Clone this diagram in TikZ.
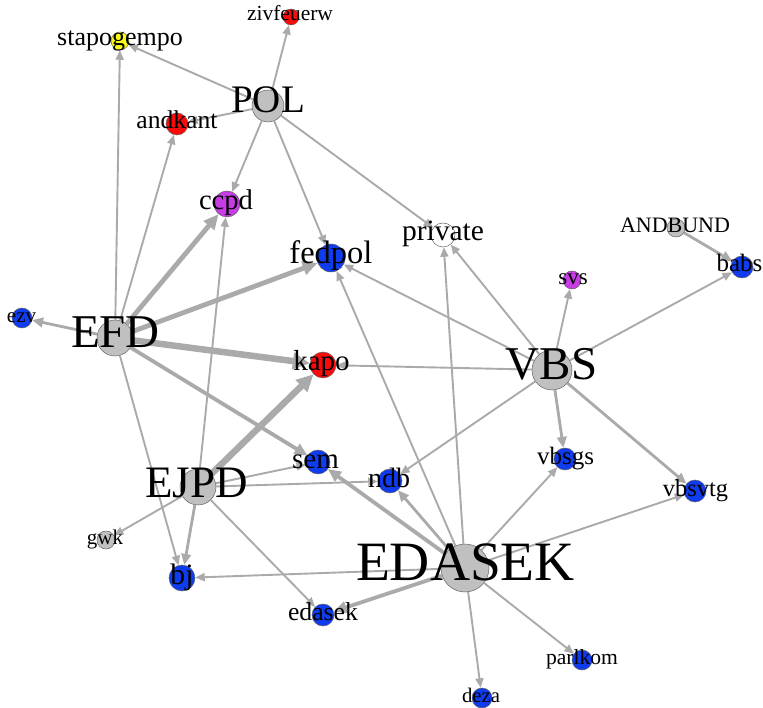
\documentclass[tikz,border=0pt]{standalone}
\usepackage{fontspec}
\setmainfont{Liberation Serif}
\usetikzlibrary{arrows.meta}
\definecolor{edgecol}{RGB}{170,170,170}
\definecolor{vgray}{RGB}{192,192,192}
\definecolor{vblue}{RGB}{16,60,240}
\definecolor{vred}{RGB}{250,10,10}
\definecolor{vpurple}{RGB}{200,60,230}
\definecolor{vyellow}{RGB}{250,250,20}
\definecolor{vborder}{RGB}{100,100,100}
\tikzset{
  vx/.style={circle, draw=vborder, line width=0.5pt, inner sep=0pt, minimum size=#1},
  lab/.style={anchor=base, inner sep=0pt, text=black, font=\fontsize{#1}{#1}\selectfont},
  ethin/.style={draw=edgecol, line width=1.9pt, -{Triangle[length=9.5pt,width=8pt]}},
  emed/.style={draw=edgecol, line width=2.8pt, -{Triangle[length=11pt,width=9.5pt]}},
  ethick/.style={draw=edgecol, line width=3.8pt, -{Triangle[length=13pt,width=11.5pt]}},
  ethicker/.style={draw=edgecol, line width=4.8pt, -{Triangle[length=15pt,width=13.5pt]}},
  evthick/.style={draw=edgecol, line width=6.5pt, -{Triangle[length=17pt,width=16pt]}},
}
\begin{document}
\begin{tikzpicture}[x=1pt,y=-1pt]
\useasboundingbox[fill=white] (0,0) rectangle (763,708);
% vertices
\node[vx=18, fill=vyellow] (stapo) at (120,41) {};
\node[vx=16, fill=vred] (zivf) at (291,17) {};
\node[vx=32, fill=vgray] (POL) at (268,106) {};
\node[vx=22, fill=vred] (andkant) at (177,124) {};
\node[vx=26, fill=vpurple] (ccpd) at (227,204) {};
\node[vx=28, fill=vblue] (fedpol) at (331,258) {};
\node[vx=24, fill=white] (private) at (443,235) {};
\node[vx=18, fill=vgray] (ANDBUND) at (676,228) {};
\node[vx=22, fill=vblue] (babs) at (742,267) {};
\node[vx=18, fill=vpurple] (svs) at (572,280) {};
\node[vx=20, fill=vblue] (ezv) at (22,318) {};
\node[vx=36, fill=vgray] (EFD) at (115,338) {};
\node[vx=26, fill=vred] (kapo) at (323,365) {};
\node[vx=40, fill=vgray] (VBS) at (552,370) {};
\node[vx=24, fill=vblue] (sem) at (318,462) {};
\node[vx=24, fill=vblue] (ndb) at (390,481) {};
\node[vx=22, fill=vblue] (vbsgs) at (565,459) {};
\node[vx=36, fill=vgray] (EJPD) at (198,487) {};
\node[vx=22, fill=vblue] (vbsvtg) at (695,491) {};
\node[vx=18, fill=vgray] (gwk) at (106,540) {};
\node[vx=26, fill=vblue] (bj) at (182,578) {};
\node[vx=48, fill=vgray] (EDASEK) at (465,568) {};
\node[vx=22, fill=vblue] (edasek) at (323,615) {};
\node[vx=20, fill=vblue] (parlkom) at (582,660) {};
\node[vx=20, fill=vblue] (deza) at (482,698) {};
% edges
\draw[ethin] (POL) -- (stapo);
\draw[ethin] (POL) -- (zivf);
\draw[ethin] (POL) -- (andkant);
\draw[ethin] (POL) -- (ccpd);
\draw[ethin] (POL) -- (fedpol);
\draw[ethin] (POL) -- (private);
\draw[ethin] (EFD) -- (stapo);
\draw[ethin] (EFD) -- (andkant);
\draw[ethicker] (EFD) -- (ccpd);
\draw[ethicker] (EFD) -- (fedpol);
\draw[emed] (EFD) -- (ezv);
\draw[evthick] (EFD) -- (kapo);
\draw[ethick] (EFD) -- (sem);
\draw[ethin] (EFD) -- (bj);
\draw[ethin] (EJPD) -- (ccpd);
\draw[evthick] (EJPD) -- (kapo);
\draw[ethin] (EJPD) -- (sem);
\draw[ethin] (EJPD) -- (ndb);
\draw[ethin] (EJPD) -- (gwk);
\draw[emed] (EJPD) -- (bj);
\draw[ethin] (EJPD) -- (edasek);
\draw[ethin] (VBS) -- (kapo);
\draw[ethin] (VBS) -- (fedpol);
\draw[ethin] (VBS) -- (private);
\draw[ethin] (VBS) -- (svs);
\draw[ethin] (VBS) -- (babs);
\draw[emed] (VBS) -- (vbsgs);
\draw[emed] (VBS) -- (vbsvtg);
\draw[ethin] (VBS) -- (ndb);
\draw[emed] (ANDBUND) -- (babs);
\draw[ethin] (EDASEK) -- (private);
\draw[ethin] (EDASEK) -- (fedpol);
\draw[ethick] (EDASEK) -- (sem);
\draw[emed] (EDASEK) -- (ndb);
\draw[ethin] (EDASEK) -- (vbsgs);
\draw[ethin] (EDASEK) -- (vbsvtg);
\draw[ethin] (EDASEK) -- (bj);
\draw[ethick] (EDASEK) -- (edasek);
\draw[ethin] (EDASEK) -- (deza);
\draw[ethin] (EDASEK) -- (parlkom);
% labels
\node[lab=26] (stapo-l) at (120,46) {stapogempo};
\node[lab=21.5] (zivf-l) at (290,21) {zivfeuerw};
\node[lab=39] (POL-l) at (268,113) {POL};
\node[lab=25.6] (andkant-l) at (177,129) {andkant};
\node[lab=28.6] (ccpd-l) at (226,210) {ccpd};
\node[lab=32.5] (fedpol-l) at (331,264) {fedpol};
\node[lab=29.5] (private-l) at (443,241) {private};
\node[lab=22] (ANDBUND-l) at (675,233) {ANDBUND};
\node[lab=25] (babs-l) at (739.5,272) {babs};
\node[lab=23] (svs-l) at (573,285) {svs};
\node[lab=21] (ezv-l) at (21.5,323) {ezv};
\node[lab=47] (EFD-l) at (115.5,348) {EFD};
\node[lab=29] (kapo-l) at (321.5,371) {kapo};
\node[lab=47] (VBS-l) at (551.5,380) {VBS};
\node[lab=29] (sem-l) at (315.5,468) {sem};
\node[lab=28] (ndb-l) at (389,487) {ndb};
\node[lab=25] (vbsgs-l) at (565.5,464) {vbsgs};
\node[lab=45] (EJPD-l) at (196.5,497) {EJPD};
\node[lab=24.4] (vbsvtg-l) at (695.5,496) {vbsvtg};
\node[lab=21] (gwk-l) at (105,544) {gwk};
\node[lab=29.6] (bj-l) at (182,584) {bj};
\node[lab=55.5] (EDASEK-l) at (465.5,580) {EDASEK};
\node[lab=25.7] (edasek-l) at (323,620) {edasek};
\node[lab=21.6] (parlkom-l) at (582,664) {parlkom};
\node[lab=20.7] (deza-l) at (481,702) {deza};
\end{tikzpicture}
\end{document}
